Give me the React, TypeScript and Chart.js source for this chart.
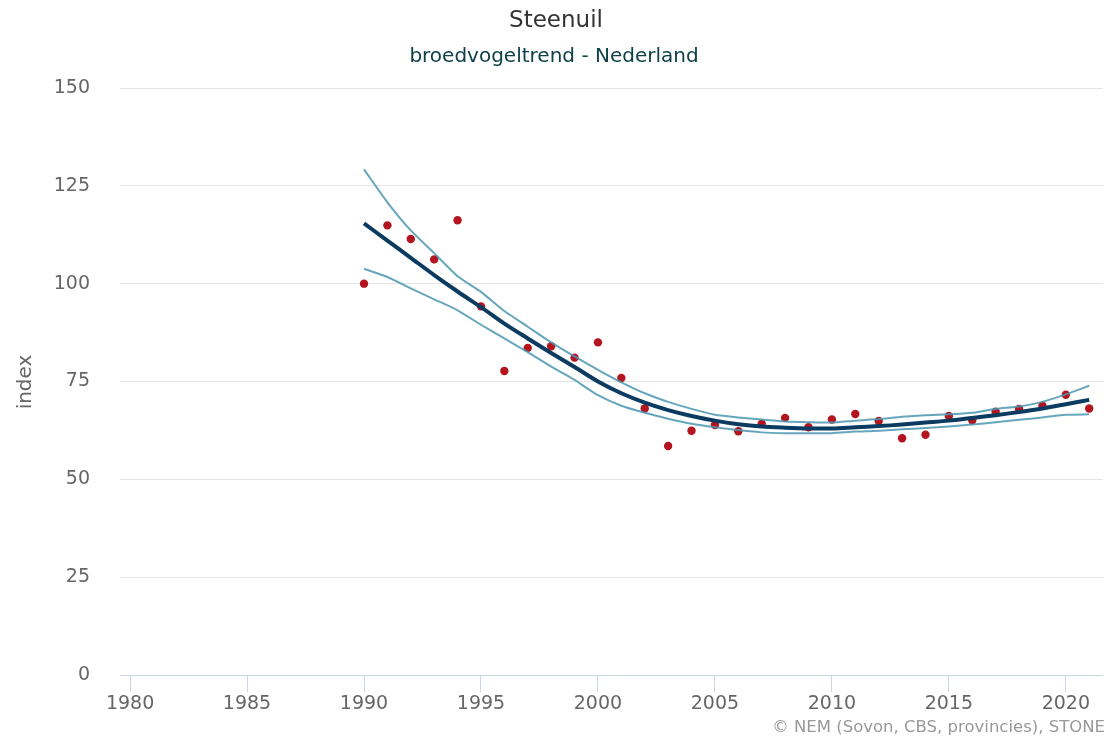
import React, { useEffect, useRef } from "react";
import { Chart, registerables } from "chart.js";

Chart.register(...registerables);

const years = [1990, 1991, 1992, 1993, 1994, 1995, 1996, 1997, 1998, 1999, 2000, 2001, 2002, 2003, 2004, 2005, 2006, 2007, 2008, 2009, 2010, 2011, 2012, 2013, 2014, 2015, 2016, 2017, 2018, 2019, 2020, 2021];
const indexValues = [100, 114.9, 111.4, 106.2, 116.2, 94.2, 77.7, 83.6, 84, 81.1, 85, 75.9, 68.1, 58.5, 62.4, 63.9, 62.3, 64.2, 65.7, 63.3, 65.3, 66.7, 64.9, 60.5, 61.4, 66.2, 65.1, 67.3, 68, 68.8, 71.6, 68.1];
const trendValues = [115.4, 111, 106.6, 102.2, 98, 94, 89.8, 86, 82.3, 78.7, 75, 72, 69.6, 67.7, 66.2, 65, 64.1, 63.5, 63.2, 63, 63, 63.3, 63.6, 64, 64.5, 65, 65.7, 66.4, 67.2, 68.1, 69.2, 70.3];
const upperValues = [129.2, 120.8, 113.6, 107.8, 101.9, 97.9, 93, 89, 85, 81.4, 78, 74.8, 72, 69.8, 68, 66.5, 65.8, 65.3, 64.8, 64.6, 64.5, 65, 65.4, 66, 66.4, 66.6, 67, 68, 68.6, 69.8, 71.7, 73.9];
const lowerValues = [103.8, 101.7, 98.8, 96, 93.2, 89.5, 86, 82.5, 78.8, 75.4, 71.5, 68.8, 67, 65.5, 64.2, 63.3, 62.6, 62, 61.8, 61.8, 61.8, 62.2, 62.4, 62.8, 63.1, 63.5, 64, 64.6, 65.2, 65.8, 66.5, 66.6];
const xTickLabels = [1980, 1985, 1990, 1995, 2000, 2005, 2010, 2015, 2020];
const yTickLabels = [0, 25, 50, 75, 100, 125, 150];

const titleText = "Steenuil";
const subtitleText = "broedvogeltrend - Nederland";
const yAxisTitle = "index";
const creditsText = "© NEM (Sovon, CBS, provincies), STONE";

const FONT = '"DejaVu Sans", sans-serif';

const toXY = (vals: number[]) => years.map((y, i) => ({ x: y, y: vals[i] }));

const textPlugin = {
  id: "customTexts",
  afterDraw(chart: any) {
    const ctx = chart.ctx;
    ctx.save();
    ctx.textAlign = "center";
    ctx.textBaseline = "middle";
    ctx.fillStyle = "#333333";
    ctx.font = `23px ${FONT}`;
    ctx.fillText(titleText, 556, 21);
    ctx.fillStyle = "#0e4148";
    ctx.font = `20px ${FONT}`;
    ctx.fillText(subtitleText, 554, 57);
    ctx.textAlign = "right";
    ctx.fillStyle = "#999999";
    ctx.font = `16.5px ${FONT}`;
    ctx.fillText(creditsText, 1105, 728);
    ctx.translate(26, 382);
    ctx.rotate(-Math.PI / 2);
    ctx.textAlign = "center";
    ctx.fillStyle = "#666666";
    ctx.font = `20px ${FONT}`;
    ctx.fillText(yAxisTitle, 0, 0);
    ctx.restore();
  },
};

export default function App() {
  const canvasRef = useRef<HTMLCanvasElement | null>(null);

  useEffect(() => {
    document.body.style.margin = "0";
    const canvas = canvasRef.current;
    if (!canvas) return;
    const chart = new Chart(canvas, {
      type: "line",
      data: {
        datasets: [
          {
            label: "trend",
            data: toXY(trendValues),
            borderColor: "#0b3b60",
            borderWidth: 4,
            pointRadius: 0,
            tension: 0.3,
            fill: false,
            order: 1,
          },
          {
            label: "bovengrens",
            data: toXY(upperValues),
            borderColor: "rgba(75,150,178,0.85)",
            borderWidth: 2,
            pointRadius: 0,
            tension: 0.2,
            fill: false,
            order: 2,
          },
          {
            label: "ondergrens",
            data: toXY(lowerValues),
            borderColor: "rgba(75,150,178,0.85)",
            borderWidth: 2,
            pointRadius: 0,
            tension: 0.2,
            fill: false,
            order: 2,
          },
          {
            label: "index",
            data: toXY(indexValues),
            showLine: false,
            pointRadius: 4.2,
            pointBackgroundColor: "#b3141e",
            pointBorderColor: "#b3141e",
            pointBorderWidth: 0,
            order: 3,
          },
        ],
      },
      options: {
        responsive: false,
        animation: false,
        layout: { padding: { left: 0, right: 2, top: 88, bottom: 0 } },
        plugins: {
          legend: { display: false },
          title: { display: false },
          tooltip: { enabled: false },
        },
        scales: {
          x: {
            type: "linear",
            min: 1979.57,
            max: 2021.58,
            afterBuildTicks: (scale: any) => {
              scale.ticks = xTickLabels.map((v) => ({ value: v }));
            },
            afterFit: (scale: any) => {
              scale.height = 63;
            },
            grid: {
              drawOnChartArea: false,
              drawTicks: true,
              tickLength: 17,
              color: "#ccd6eb",
              lineWidth: 1,
            },
            border: { display: true, color: "#ccd6eb", width: 1 },
            ticks: {
              autoSkip: false,
              maxRotation: 0,
              padding: 1,
              color: "#666666",
              font: { family: FONT, size: 19 },
              callback: (v: any) => String(v),
            },
          },
          y: {
            min: 0,
            max: 150,
            afterBuildTicks: (scale: any) => {
              scale.ticks = yTickLabels.map((v) => ({ value: v }));
            },
            afterFit: (scale: any) => {
              scale.width = 120;
            },
            grid: {
              drawTicks: false,
              color: "#e6e6e6",
              lineWidth: 1,
            },
            border: { display: false },
            ticks: {
              padding: 30,
              color: "#666666",
              font: { family: FONT, size: 19 },
              callback: (v: any) => String(v),
            },
          },
        },
      },
      plugins: [textPlugin],
    });
    return () => chart.destroy();
  }, []);

  return (
    <div style={{ position: "absolute", left: 0, top: 0, width: 1107, height: 738, background: "#ffffff" }}>
      <canvas ref={canvasRef} width={1107} height={738} />
    </div>
  );
}
